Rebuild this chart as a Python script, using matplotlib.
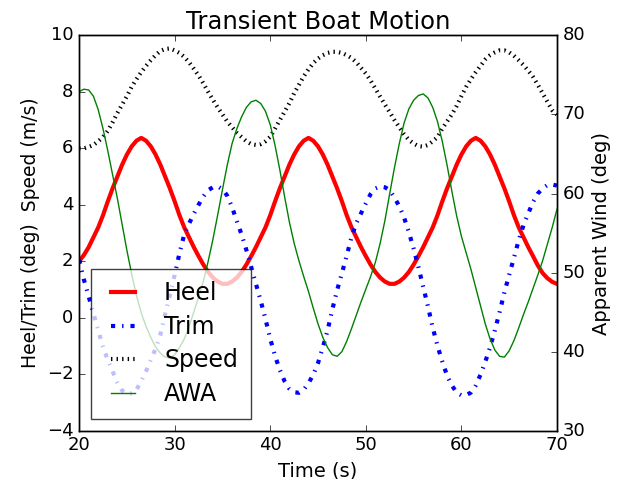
import matplotlib
matplotlib.use("Agg")
import matplotlib.pyplot as plt

plt.style.use("classic")

time = [20 + 0.5 * i for i in range(101)]

heel = [2.0, 2.22, 2.5, 2.85, 3.2, 3.63, 4.12, 4.58, 5.0, 5.42,
        5.78, 6.07, 6.27, 6.37, 6.27, 6.07, 5.78, 5.42, 5.0, 4.58,
        4.12, 3.63, 3.2, 2.85, 2.5, 2.18, 1.88, 1.62, 1.42, 1.28,
        1.2, 1.2, 1.28, 1.42, 1.62, 1.88, 2.18, 2.5, 2.85, 3.2,
        3.63, 4.12, 4.58, 5.0, 5.42, 5.78, 6.07, 6.27, 6.37, 6.27,
        6.07, 5.78, 5.42, 5.0, 4.58, 4.12, 3.63, 3.2, 2.85, 2.5,
        2.18, 1.88, 1.62, 1.42, 1.28, 1.2, 1.2, 1.28, 1.42, 1.62,
        1.88, 2.18, 2.5, 2.85, 3.2, 3.63, 4.12, 4.58, 5.0, 5.42,
        5.78, 6.07, 6.27, 6.37, 6.27, 6.07, 5.78, 5.42, 5.0, 4.58,
        4.12, 3.63, 3.2, 2.85, 2.5, 2.18, 1.85, 1.58, 1.4, 1.27,
        1.2]

trim = [2.05, 1.35, 0.75, 0.15, -0.45, -1.03, -1.5, -1.9, -2.3, -2.58,
        -2.7, -2.68, -2.55, -2.25, -1.9, -1.5, -1.1, -0.6, 0.12, 0.8,
        1.52, 2.28, 2.95, 3.33, 3.68, 4.0, 4.3, 4.52, 4.62, 4.65,
        4.55, 4.32, 3.92, 3.42, 2.95, 2.4, 1.8, 1.2, 0.6, -0.05,
        -0.75, -1.35, -1.85, -2.25, -2.52, -2.64, -2.66, -2.55, -2.32, -2.02,
        -1.6, -1.05, -0.45, 0.3, 0.98, 1.58, 2.2, 2.85, 3.35, 3.7,
        4.05, 4.38, 4.58, 4.65, 4.62, 4.52, 4.25, 3.95, 3.55, 3.03,
        2.45, 1.8, 1.1, 0.4, -0.35, -1.0, -1.55, -2.05, -2.4, -2.65,
        -2.75, -2.74, -2.65, -2.4, -2.02, -1.56, -1.05, -0.45, 0.2, 0.9,
        1.52, 2.12, 2.75, 3.28, 3.7, 4.1, 4.4, 4.58, 4.7, 4.72,
        4.68]

speed = [6.0, 6.0, 6.05, 6.12, 6.25, 6.4, 6.62, 6.92, 7.25, 7.55,
         7.85, 8.18, 8.45, 8.7, 8.92, 9.12, 9.3, 9.45, 9.52, 9.54,
         9.47, 9.38, 9.24, 9.05, 8.82, 8.58, 8.3, 8.0, 7.72, 7.45,
         7.2, 6.95, 6.75, 6.55, 6.4, 6.25, 6.15, 6.12, 6.15, 6.25,
         6.41, 6.7, 7.0, 7.3, 7.6, 7.95, 8.25, 8.55, 8.8, 9.02,
         9.18, 9.3, 9.38, 9.42, 9.42, 9.38, 9.3, 9.2, 9.05, 8.85,
         8.65, 8.4, 8.12, 7.83, 7.55, 7.28, 7.0, 6.75, 6.5, 6.3,
         6.17, 6.08, 6.06, 6.12, 6.25, 6.4, 6.7, 6.95, 7.2, 7.5,
         7.85, 8.18, 8.45, 8.7, 8.92, 9.15, 9.3, 9.4, 9.47, 9.47,
         9.4, 9.28, 9.12, 8.95, 8.75, 8.53, 8.25, 7.95, 7.65, 7.35,
         7.2]

awa = [72.9, 73.2, 73.1, 72.3, 70.6, 68.2, 65.4, 62.4, 59.4, 56.1,
       52.8, 49.8, 47.1, 44.9, 43.2, 41.8, 40.6, 39.8, 39.3, 39.2,
       39.6, 40.5, 41.6, 43.2, 45.0, 46.9, 48.9, 51.4, 54.2, 57.3,
       60.5, 63.6, 66.3, 68.2, 69.7, 70.9, 71.6, 71.8, 71.4, 70.4,
       68.7, 66.1, 63.0, 59.6, 56.4, 53.7, 51.5, 49.5, 47.6, 45.5,
       43.5, 41.8, 40.5, 39.6, 39.4, 40.0, 41.3, 42.9, 44.6, 46.3,
       47.9, 49.5, 51.3, 53.7, 56.6, 60.0, 63.3, 66.3, 68.9, 70.7,
       71.8, 72.4, 72.6, 72.1, 70.9, 69.1, 66.6, 63.6, 60.3, 57.2,
       54.6, 52.5, 50.4, 48.1, 45.8, 43.5, 41.6, 40.2, 39.4, 39.3,
       40.1, 41.4, 43.0, 44.7, 46.3, 48.0, 49.7, 51.5, 53.6, 55.7,
       58.0]

xticks = [20, 30, 40, 50, 60, 70]
yticks_left = [-4, -2, 0, 2, 4, 6, 8, 10]
yticks_right = [30, 40, 50, 60, 70, 80]

fig = plt.figure(figsize=(6.23, 4.79), dpi=100, facecolor="white")
ax = fig.add_axes([0.127, 0.101, 0.767, 0.825])
ax2 = ax.twinx()

l1, = ax.plot(time, heel, color="red", lw=3, label="Heel")
l2, = ax.plot(time, trim, color="blue", lw=3, linestyle="-.", label="Trim")
l3, = ax.plot(time, speed, color="black", lw=3, linestyle=":", label="Speed")
l4, = ax2.plot(time, awa, color="green", lw=1, label="AWA")

ax.set_xlim(20, 70)
ax.set_ylim(-4, 10)
ax2.set_ylim(30, 80)
ax.set_xticks(xticks)
ax.set_yticks(yticks_left)
ax2.set_yticks(yticks_right)

ax.tick_params(labelsize=13)
ax2.tick_params(labelsize=13)

ax.set_xlabel("Time (s)", fontsize=14)
ax.set_ylabel("Heel/Trim (deg)  Speed (m/s)", fontsize=13.5)
ax2.set_ylabel("Apparent Wind (deg)", fontsize=14)
ax.set_title("Transient Boat Motion", fontsize=17.5)

leg = ax2.legend([l1, l2, l3, l4], ["Heel", "Trim", "Speed", "AWA"],
                 loc="lower left", fontsize=17, framealpha=0.75,
                 handlelength=1.6, handletextpad=0.95, borderpad=0.55,
                 labelspacing=0.4)

fig.savefig("out.png", dpi=100, facecolor="white")
